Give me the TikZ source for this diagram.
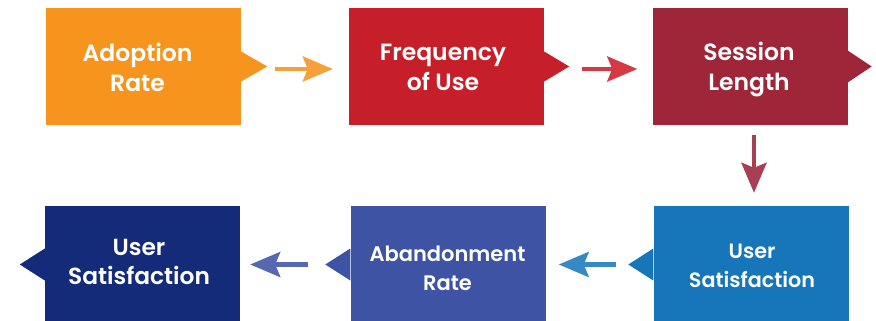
\documentclass[tikz,border=0pt]{standalone}
\usepackage{fontspec}
\setmainfont{Poppins}[BoldFont={Poppins SemiBold}]
\usetikzlibrary{arrows.meta,positioning}
\definecolor{cOrange}{HTML}{F7941E}
\definecolor{cRed}{HTML}{C61F29}
\definecolor{cMaroon}{HTML}{9E2638}
\definecolor{cBlue}{HTML}{1775BA}
\definecolor{cIndigo}{HTML}{3E53A4}
\definecolor{cNavy}{HTML}{132B78}
\definecolor{aOrange}{HTML}{F6A03C}
\definecolor{aRed}{HTML}{D33A43}
\definecolor{aMaroon}{HTML}{A83F53}
\definecolor{aBlue}{HTML}{3589C5}
\definecolor{aIndigo}{HTML}{5668B2}
\tikzset{
  box/.style={rectangle, minimum width=195pt, minimum height=117pt, inner sep=0pt, draw=none},
  lbl/.style={text=white, align=center, font=\bfseries\fontsize{23.5}{30}\selectfont},
  flow/.style={line width=4.5pt, -{Stealth[length=30pt,width=25pt,inset=5pt]}},
}
\begin{document}
\begin{tikzpicture}[x=1pt,y=-1pt]
\useasboundingbox (0,0) rectangle (876,321);
% boxes
\node[box, fill=cOrange] (b1) at (143.5,66.5) {};
\node[box, fill=cRed]    (b2) at (446.5,66.5) {};
\node[box, fill=cMaroon] (b3) at (750,66.5) {};
\node[box, fill=cNavy]   (b4) at (142.5,264.5) {};
\node[box, fill=cIndigo] (b5) at (448,264.5) {};
\node[box, fill=cBlue]   (b6) at (751,264.5) {};
% pointers
\fill[cOrange] ([yshift=15pt]b1.east) -- ([xshift=26pt]b1.east) -- ([yshift=-15pt]b1.east) -- cycle;
\fill[cRed]    ([yshift=15pt]b2.east) -- ([xshift=25pt]b2.east) -- ([yshift=-15pt]b2.east) -- cycle;
\fill[cMaroon] ([yshift=16pt]b3.east) -- ([xshift=24pt]b3.east) -- ([yshift=-16pt]b3.east) -- cycle;
\fill[cNavy]   ([yshift=16pt]b4.west) -- ([xshift=-25pt]b4.west) -- ([yshift=-16pt]b4.west) -- cycle;
\fill[cIndigo] ([yshift=16pt]b5.west) -- ([xshift=-25pt]b5.west) -- ([yshift=-16pt]b5.west) -- cycle;
\fill[cBlue]   ([yshift=16pt]b6.west) -- ([xshift=-25pt]b6.west) -- ([yshift=-16pt]b6.west) -- cycle;
% labels
\node[lbl] (t1) at (137.5,67) {Adoption\\Rate};
\node[lbl] (t2) at (443,67) {Frequency\\of Use};
\node[lbl] (t3) at (749,69.5) {Session\\Length};
\node[lbl, font=\bfseries\fontsize{23.3}{29}\selectfont] (t4) at (139,262) {User\\Satisfaction};
\node[lbl, font=\bfseries\fontsize{21}{29}\selectfont] (t5) at (447.5,268) {Abandonment\\Rate};
\node[lbl, font=\bfseries\fontsize{20.7}{29}\selectfont] (t6) at (752,265.5) {User\\Satisfaction};
% connectors
\draw[flow, aOrange] ([xshift=34pt,yshift=-2.5pt]b1.east) -- ([xshift=-16pt,yshift=-2.5pt]b2.west);
\draw[flow, aRed]    ([xshift=38pt,yshift=-2.5pt]b2.east) -- ([xshift=-15pt,yshift=-2.5pt]b3.west);
\draw[flow, aMaroon] ([yshift=-10pt,xshift=4pt]b3.south) -- ([yshift=13pt,xshift=3pt]b6.north);
\draw[flow, aBlue]   ([xshift=-37pt]b6.west) -- ([xshift=13pt]b5.east);
\draw[flow, aIndigo] ([xshift=-42pt]b5.west) -- ([xshift=10pt]b4.east);
\end{tikzpicture}
\end{document}
